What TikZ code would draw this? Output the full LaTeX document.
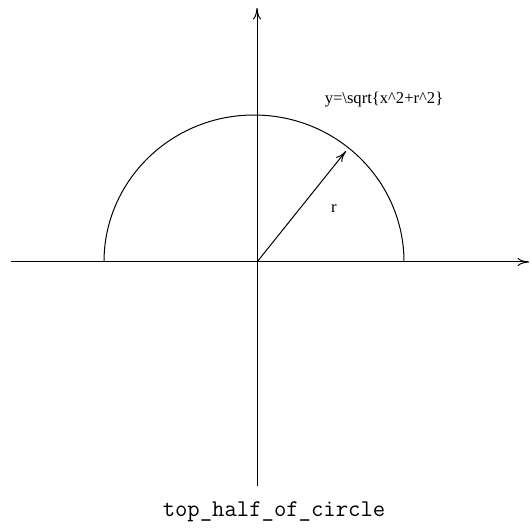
\documentclass[tikz,border=0pt]{standalone}
\usepackage{fontspec}
\usepackage{tikz}
\usetikzlibrary{
  arrows.meta,
  positioning,
  calc
}
\newfontfamily\plotfont{Liberation Serif}
\tikzset{
  axisline/.style={-{Computer Modern Rightarrow[length=2mm, width=1.4mm]}, line width=0.5pt, black},
  radius/.style={-{Computer Modern Rightarrow[length=2mm, width=1.4mm]}, line width=0.5pt, black},
  curve/.style={line width=0.5pt, black},
  tag/.style={font=\plotfont\fontsize{8.3}{10}\selectfont, inner sep=0pt},
  caption/.style={font=\large\ttfamily, inner sep=0pt}
}

\begin{document}
\begin{tikzpicture}[x=0.5pt, y=-0.5pt]
  \useasboundingbox (0,0) rectangle (530,529);
  \coordinate (o) at (257,262);
  \coordinate (xl) at (11,262);
  \coordinate (xr) at (529,262);
  \coordinate (yb) at (257,486);
  \coordinate (yt) at (257,8);
  \coordinate (tip) at (346,151);
  % axes
  \draw[axisline] (xl) -- (xr);
  \draw[axisline] (yb) -- (yt);
  % half circle and radius
  \draw[curve] ($(o)+(-153,0)$) arc[start angle=180, end angle=0, x radius=150, y radius=-147];
  \draw[radius] (o) -- (tip);
  \node[tag] (rlabel) at (334,209) {r};
  \node[tag] (eqn) at (384,100) {y=\textbackslash sqrt\{x\^{}2+r\^{}2\}};
  \node[caption] (title) at (274,512) {top\_half\_of\_circle};
\end{tikzpicture}
\end{document}
